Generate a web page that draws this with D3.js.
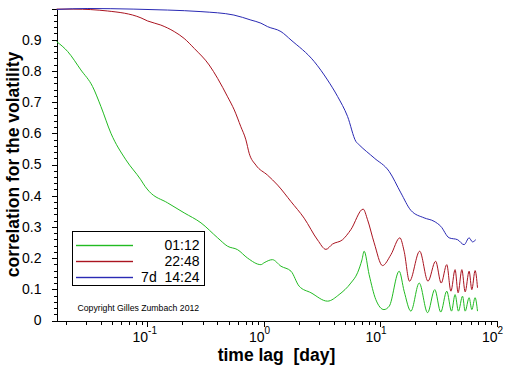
<!DOCTYPE html>
<html><head><meta charset="utf-8">
<script src="https://cdn.jsdelivr.net/npm/d3@7"></script>
<style>
html,body{margin:0;padding:0;background:#fff;}
svg{display:block;}
text{font-family:"Liberation Sans Narrow","Liberation Sans",Arial,sans-serif;}
</style></head>
<body><svg id="c" width="512" height="366"></svg>
<script>
// ---- data ----
const seriesNames = ["01:12", "22:48", "7d  14:24"];
const seriesColors = ["#22bb22", "#aa1420", "#2a2ab4"];

const lag01 = [0.0167,0.0208,0.027,0.034,0.0401,0.0489,0.0657,0.0883,0.096,0.104,0.15,0.208,0.29,0.403,0.491,0.598,0.729,0.948,1.01,1.19,1.41,1.72,2.02,2.55,3.54,4.45,5.61,6.41,7.0,7.3,8.06,9.2,10.8,12.0,14.6,16.1,18.4,21.7,25.6,29.5,33.2,37.4,41.1,44.1,47.1,51.1,53.8,58.2,61.4,65.5,68.7];
const val01 = [0.894,0.862,0.803,0.75,0.686,0.6,0.515,0.451,0.43,0.414,0.377,0.345,0.313,0.265,0.238,0.227,0.2,0.179,0.185,0.195,0.174,0.158,0.11,0.089,0.062,0.083,0.12,0.153,0.195,0.222,0.147,0.067,0.035,0.046,0.158,0.094,0.03,0.12,0.025,0.099,0.027,0.094,0.03,0.083,0.03,0.078,0.03,0.073,0.035,0.073,0.03];

const lag2248 = [0.0167,0.0235,0.0458,0.0885,0.101,0.131,0.171,0.208,0.254,0.341,0.403,0.491,0.56,0.638,0.705,0.752,0.859,1.08,1.32,1.72,2.23,2.91,3.43,3.91,4.77,5.61,7.16,7.81,8.9,10.5,12.4,14.8,16.1,17.9,21.9,25.8,30.0,33.5,37.4,40.6,44.1,46.8,50.4,53.8,58.2,61.4,65.5,68.7];
const val2248 = [0.998,0.998,0.992,0.97,0.96,0.947,0.926,0.904,0.872,0.819,0.776,0.717,0.675,0.621,0.579,0.536,0.498,0.466,0.434,0.381,0.328,0.258,0.228,0.245,0.259,0.291,0.357,0.323,0.249,0.176,0.211,0.265,0.222,0.126,0.222,0.126,0.19,0.12,0.179,0.094,0.163,0.089,0.163,0.092,0.158,0.099,0.16,0.105];

const lag7d = [0.0167,0.031,0.077,0.15,0.29,0.556,0.778,0.948,1.08,1.41,1.72,2.72,3.54,4.32,5.26,6.2,6.62,8.9,11.97,15.1,18.4,23.9,29.1,33.2,39.2,46.3,52.7,58.2,62.2,66.4];
const val7d = [0.997,1.0,0.998,0.995,0.99,0.979,0.963,0.953,0.942,0.926,0.899,0.83,0.771,0.718,0.654,0.574,0.563,0.521,0.478,0.409,0.353,0.329,0.318,0.302,0.265,0.259,0.243,0.265,0.252,0.259];

const xMajorTicks = [0.1, 1, 10, 100];
const xTickExponents = ["-1", "0", "1", "2"];
const yMajorTicks = [0,0.1,0.2,0.3,0.4,0.5,0.6,0.7,0.8,0.9,1.0];
const yTickLabels = ["0","0.1","0.2","0.3","0.4","0.5","0.6","0.7","0.8","0.9",""];
const xLabel = "time lag  [day]";
const yLabel = "correlation for the volatility";
const copyright = "Copyright Gilles Zumbach 2012";

// ---- layout ----
const svg = d3.select("#c");
const x = d3.scaleLog().domain([1/60, 100]).range([56.5, 496.5]);
const y = d3.scaleLinear().domain([0, 1]).range([320.5, 8.5]);

const xMinor = [];
[0.01, 0.1, 1, 10].forEach(b => { for (let k = 2; k <= 9; k++) { const v = b * k; if (v >= 1/60 && v < 100) xMinor.push(v); } });
const yMinor = d3.range(0, 51).map(i => i / 50);

const gx = svg.append("g").attr("transform", "translate(0,320.5)");
gx.call(d3.axisBottom(x).tickValues(xMinor).tickSize(4).tickSizeOuter(0).tickFormat(""));
gx.append("g").call(d3.axisBottom(x).tickValues(xMajorTicks).tickSize(6).tickSizeOuter(0).tickFormat(""));
gx.selectAll("path,line").attr("stroke", "#000").attr("shape-rendering", "crispEdges");

const gy = svg.append("g").attr("transform", "translate(56.5,0)");
gy.call(d3.axisLeft(y).tickValues(yMinor).tickSize(3).tickSizeOuter(0).tickFormat(""));
gy.append("g").call(d3.axisLeft(y).tickValues(yMajorTicks).tickSize(5).tickSizeOuter(0).tickPadding(10).tickFormat((d, i) => yTickLabels[i]));
gy.selectAll("path,line").attr("stroke", "#000").attr("shape-rendering", "crispEdges");
gy.selectAll("text").attr("font-size", 14).attr("fill", "#000")
  .attr("font-family", '"Liberation Sans Narrow","Liberation Sans",sans-serif');

xMajorTicks.forEach((v, i) => {
  svg.append("text").attr("x", x(v) + 1).attr("y", 341.5)
    .attr("text-anchor", "end").attr("font-size", 14).attr("fill", "#000").text("10");
  svg.append("text").attr("x", x(v) + 1).attr("y", 333.5)
    .attr("font-size", 10).attr("fill", "#000").text(xTickExponents[i]);
});

svg.append("text").attr("x", 276.5).attr("y", 361).attr("text-anchor", "middle")
  .attr("font-family", '"Liberation Sans",Arial,sans-serif').attr("font-weight", "bold")
  .attr("font-size", 17.5).style("white-space", "pre").text(xLabel);
svg.append("text").attr("transform", "translate(18.5,164.5) rotate(-90)").attr("text-anchor", "middle")
  .attr("font-family", '"Liberation Sans",Arial,sans-serif').attr("font-weight", "bold")
  .attr("font-size", 17.5).text(yLabel);

const series = [[lag01, val01], [lag2248, val2248], [lag7d, val7d]];
series.forEach(([lags, vals], s) => {
  const gen = d3.line().x((d, i) => x(lags[i])).y(d => y(d)).curve(d3.curveMonotoneX);
  svg.append("path").datum(vals).attr("d", gen).attr("fill", "none")
    .attr("stroke", seriesColors[s]).attr("stroke-width", 1);
});

const lg = svg.append("g");
lg.append("rect").attr("x", 72.5).attr("y", 231.5).attr("width", 132).attr("height", 54)
  .attr("fill", "#fff").attr("stroke", "#000").attr("shape-rendering", "crispEdges");
const rowY = [245, 261, 277];
seriesNames.forEach((n, i) => {
  lg.append("rect").attr("x", 76).attr("y", rowY[i] - 0.2).attr("width", 57).attr("height", 1.4)
    .attr("fill", seriesColors[i]);
  lg.append("text").attr("x", 199.5).attr("y", rowY[i] + 5).attr("text-anchor", "end")
    .attr("font-size", 14).attr("fill", "#000").style("white-space", "pre").text(n);
});

svg.append("text").attr("x", 77.5).attr("y", 311).attr("font-size", 8.7)
  .attr("font-family", '"Liberation Sans",Arial,sans-serif').attr("fill", "#000").text(copyright);
</script>
</body></html>
